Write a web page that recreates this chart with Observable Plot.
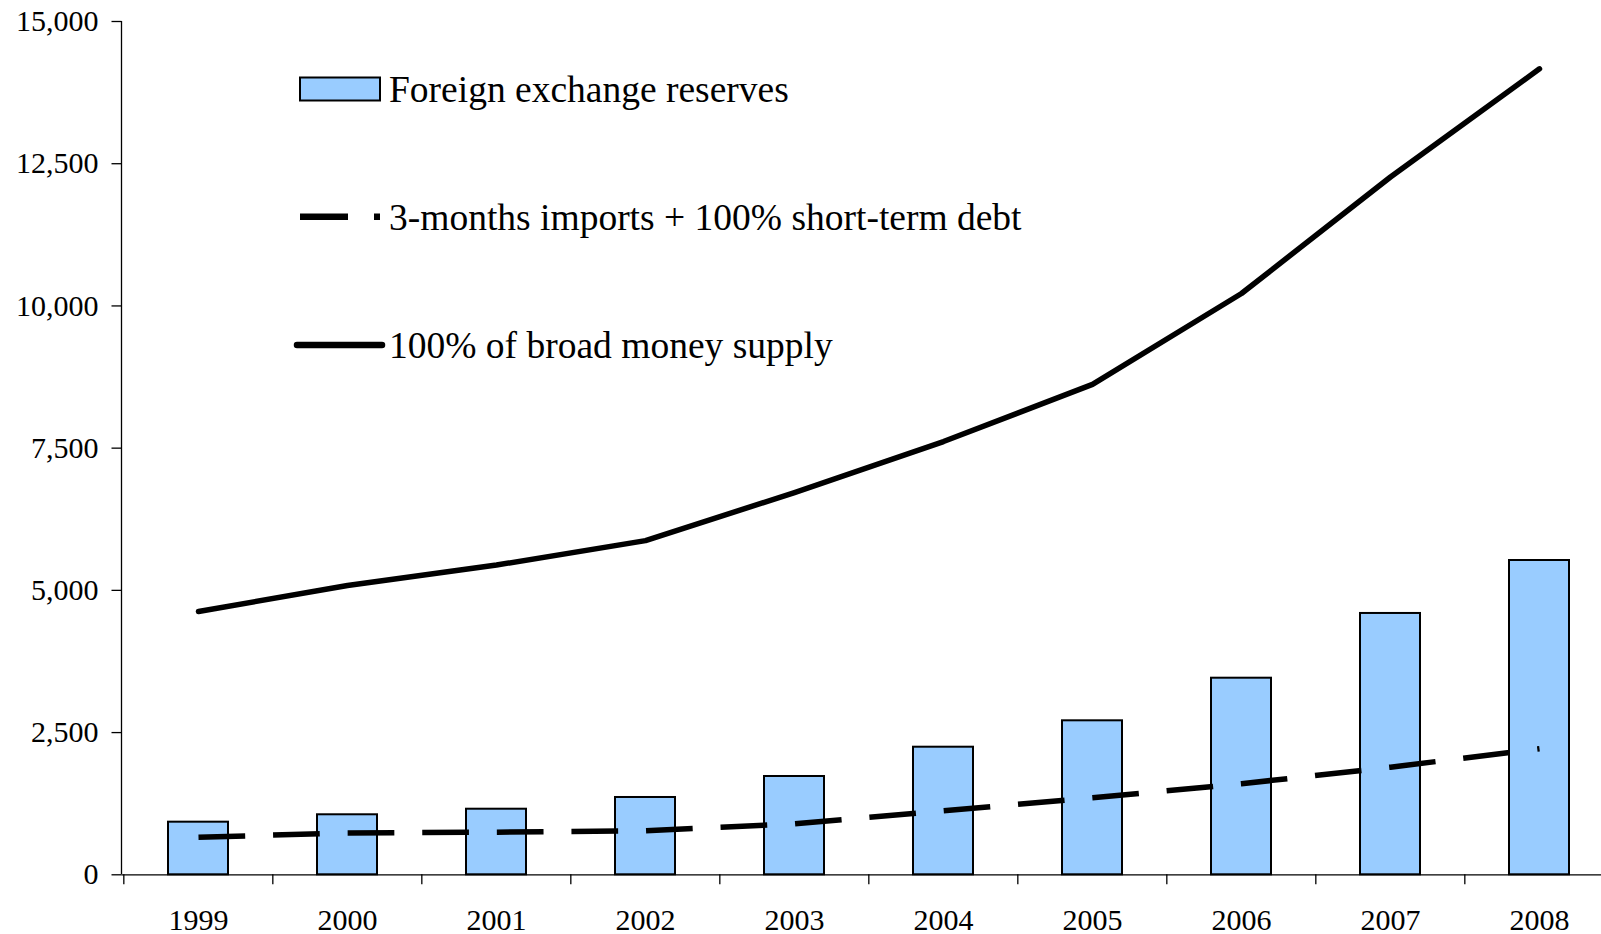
<!DOCTYPE html>
<html><head><meta charset="utf-8">
<script src="https://cdn.jsdelivr.net/npm/d3@7"></script>
<script src="https://cdn.jsdelivr.net/npm/@observablehq/plot@0.6"></script>
<style>
body{margin:0;background:#fff}
#wrap{position:relative;width:1601px;height:934px;overflow:hidden;background:#fff}
#legend{position:absolute;left:0;top:0;pointer-events:none}
</style>
</head><body><div id="wrap"></div>
<script>
const years = ["1999","2000","2001","2002","2003","2004","2005","2006","2007","2008"];
const reserves = [925, 1055, 1153, 1359, 1728, 2243, 2707, 3456, 4594, 5525];
const threshold = [661, 735, 750, 775, 897, 1125, 1354, 1600, 1892, 2215];
const broadMoney = [4629, 5086, 5445, 5875, 6719, 7616, 8622, 10219, 12266, 14168];
const yTicks = [0, 2500, 5000, 7500, 10000, 12500, 15000];
const legendLabels = ["Foreign exchange reserves", "3-months imports + 100% short-term debt", "100% of broad money supply"];

const data = years.map((year, i) => ({year, reserves: reserves[i], threshold: threshold[i], broad: broadMoney[i]}));
const font = "'Liberation Serif','Times New Roman',serif";
const xRange = [121.5, 1615];
const step = (xRange[1] - xRange[0]) / years.length;

const yAxisLine = (index, scales, values, dims) => {
  const ns = "http://www.w3.org/2000/svg";
  const l = document.createElementNS(ns, "line");
  l.setAttribute("x1", dims.marginLeft); l.setAttribute("x2", dims.marginLeft);
  l.setAttribute("y1", scales.y(0)); l.setAttribute("y2", scales.y(15000));
  l.setAttribute("stroke", "black"); l.setAttribute("stroke-width", 1.3);
  return l;
};

const chart = Plot.plot({
  width: 1601, height: 934,
  marginLeft: 121.5, marginRight: 0, marginTop: 21, marginBottom: 59.7,
  style: {fontFamily: font, background: "white", color: "black", overflow: "hidden"},
  x: {type: "band", domain: years, range: xRange, paddingInner: 0.6, paddingOuter: 0.3, label: null},
  y: {domain: [0, 15000], label: null},
  marks: [
    Plot.barY(data, {x: "year", y: "reserves", fill: "#99CCFF", stroke: "black", strokeWidth: 2}),
    Plot.lineY(data, {x: "year", y: "threshold", stroke: "black", strokeWidth: 5.5, strokeDasharray: "46.7,27.9", strokeLinecap: "butt"}),
    Plot.lineY(data, {x: "year", y: "broad", stroke: "black", strokeWidth: 5.5, strokeLinecap: "round", strokeLinejoin: "round"}),
    Plot.ruleY([0], {stroke: "black", strokeWidth: 1.3}),
    yAxisLine,
    Plot.axisY({ticks: yTicks, tickSize: 10, tickPadding: 13.5, tickFormat: d3.format(","), fontSize: 30, strokeWidth: 1.3, label: null}),
    Plot.axisX({ticks: years, tickSize: 10, tickFormat: () => "", dx: -step / 2, strokeWidth: 1.3, label: null}),
    Plot.axisX({tickSize: 0, tickPadding: 34, fontSize: 30, label: null})
  ]
});
const wrap = document.getElementById("wrap");
wrap.appendChild(chart);

// Legend overlay
const ns = "http://www.w3.org/2000/svg";
const lg = document.createElementNS(ns, "svg");
lg.setAttribute("id", "legend");
lg.setAttribute("width", 1601); lg.setAttribute("height", 934);
lg.innerHTML = `
  <rect x="300" y="77.5" width="80" height="23" fill="#99CCFF" stroke="black" stroke-width="2"/>
  <line x1="300" x2="380" y1="216.7" y2="216.7" stroke="black" stroke-width="6.5" stroke-dasharray="48,26"/>
  <line x1="297" x2="382" y1="345" y2="345" stroke="black" stroke-width="6.5" stroke-linecap="round"/>
`;
const baselines = [101.5, 230, 358];
legendLabels.forEach((t, i) => {
  const tx = document.createElementNS(ns, "text");
  tx.setAttribute("x", 389); tx.setAttribute("y", baselines[i]);
  tx.setAttribute("font-family", font); tx.setAttribute("font-size", 37.5);
  tx.setAttribute("fill", "black");
  tx.textContent = t;
  lg.appendChild(tx);
});
wrap.appendChild(lg);
</script>
</body></html>
